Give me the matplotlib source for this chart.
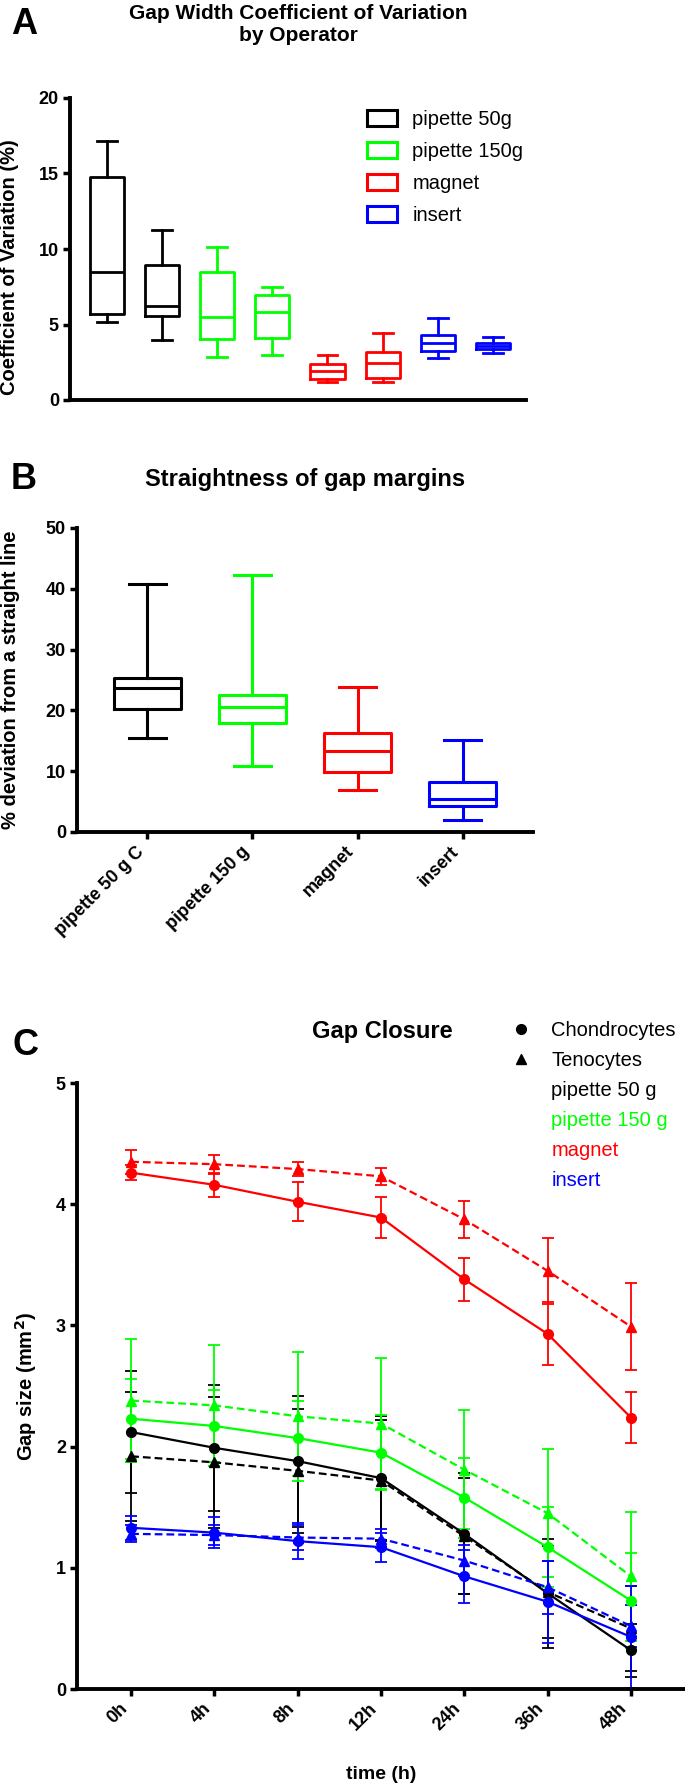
import matplotlib
matplotlib.use('Agg')
import matplotlib.pyplot as plt
from matplotlib.patches import Patch
from matplotlib.lines import Line2D
import numpy as np

plt.rcParams['font.family'] = ['Liberation Sans', 'DejaVu Sans']
plt.rcParams['font.weight'] = 'bold'

# ---- panel A: coefficient of variation by operator (2 operators per method)
cv_colors = ['black', 'black', '#00ff00', '#00ff00', 'red', 'red', 'blue', 'blue']
cv_whislo = [5.15, 3.98, 2.87, 2.96, 1.2, 1.19, 2.81, 3.09]
cv_q1 = [5.68, 5.57, 4.02, 4.09, 1.4, 1.48, 3.25, 3.36]
cv_med = [8.5, 6.2, 5.52, 5.86, 1.95, 2.43, 3.75, 3.58]
cv_q3 = [14.76, 8.95, 8.5, 6.96, 2.4, 3.2, 4.31, 3.8]
cv_whishi = [17.13, 11.27, 10.12, 7.47, 2.96, 4.46, 5.46, 4.2]
cv_legend = ['pipette 50g', 'pipette 150g', 'magnet', 'insert']
legend_colors = ['black', '#00ff00', 'red', 'blue']

# ---- panel B: straightness of gap margins
sd_labels = ['pipette 50 g C', 'pipette 150 g', 'magnet', 'insert']
sd_whislo = [15.5, 10.8, 6.85, 2.0]
sd_q1 = [20.3, 18.0, 9.9, 4.2]
sd_med = [23.7, 20.6, 13.3, 5.5]
sd_q3 = [25.3, 22.5, 16.3, 8.2]
sd_whishi = [40.8, 42.2, 23.8, 15.1]

# ---- panel C: gap closure over time (mean, sd)
times = ['0h', '4h', '8h', '12h', '24h', '36h', '48h']
pip50_chon = [2.12, 1.99, 1.88, 1.74, 1.28, 0.79, 0.32]
pip50_chon_sd = [0.50, 0.52, 0.54, 0.51, 0.50, 0.45, 0.22]
pip50_teno = [1.92, 1.87, 1.80, 1.72, 1.26, 0.80, 0.50]
pip50_teno_sd = [0.53, 0.54, 0.51, 0.50, 0.48, 0.38, 0.35]
pip150_chon = [2.23, 2.17, 2.07, 1.95, 1.58, 1.17, 0.73]
pip150_chon_sd = [0.33, 0.30, 0.31, 0.31, 0.33, 0.33, 0.39]
pip150_teno = [2.38, 2.34, 2.25, 2.19, 1.81, 1.45, 0.93]
pip150_teno_sd = [0.51, 0.50, 0.53, 0.54, 0.49, 0.53, 0.53]
mag_chon = [4.26, 4.16, 4.02, 3.89, 3.38, 2.93, 2.24]
mag_chon_sd = [0.06, 0.10, 0.16, 0.17, 0.18, 0.26, 0.21]
mag_teno = [4.35, 4.33, 4.29, 4.23, 3.875, 3.45, 2.99]
mag_teno_sd = [0.10, 0.08, 0.06, 0.07, 0.15, 0.27, 0.36]
ins_chon = [1.33, 1.29, 1.22, 1.17, 0.93, 0.72, 0.43]
ins_chon_sd = [0.10, 0.13, 0.15, 0.12, 0.22, 0.34, 0.42]
ins_teno = [1.28, 1.27, 1.25, 1.24, 1.06, 0.84, 0.52]
ins_teno_sd = [0.07, 0.08, 0.10, 0.08, 0.13, 0.22, 0.17]

W, H = 685, 1786


def fx(px):
    return px / W


def fy(py):
    return 1 - py / H


def rect(left, top, right, bottom):
    return [fx(left), fy(bottom), (right - left) / W, (bottom - top) / H]


def style_axes(ax):
    for s in ['top', 'right']:
        ax.spines[s].set_visible(False)
    for s in ['left', 'bottom']:
        ax.spines[s].set_linewidth(2.8)
    ax.tick_params(width=2.5, length=5, labelsize=13, pad=3)


def draw_boxes(ax, pos, lo, q1, med, q3, hi, colors, width, capw, lw):
    stats = [{'whislo': a, 'q1': b, 'med': c, 'q3': d, 'whishi': e}
             for a, b, c, d, e in zip(lo, q1, med, q3, hi)]
    art = ax.bxp(stats, positions=pos, widths=width, capwidths=capw,
                 showfliers=False, manage_ticks=False)
    for i, c in enumerate(colors):
        art['boxes'][i].set(color=c, linewidth=lw)
        art['medians'][i].set(color=c, linewidth=lw)
        for k in (2 * i, 2 * i + 1):
            art['whiskers'][k].set(color=c, linewidth=lw)
            art['caps'][k].set(color=c, linewidth=lw)


fig = plt.figure(figsize=(W / 100, H / 100), dpi=100)

# ================= A =================
axA = fig.add_axes(rect(70, 98, 526, 400))
style_axes(axA)
draw_boxes(axA, np.arange(1, 9), cv_whislo, cv_q1, cv_med, cv_q3, cv_whishi,
           cv_colors, 0.62, 0.36, 2.0)
axA.set_xlim(0.33, 8.6)
axA.set_ylim(0, 20)
axA.set_yticks([0, 5, 10, 15, 20])
axA.set_xticks([])
handles = [Patch(facecolor='none', edgecolor=c, linewidth=2.2) for c in legend_colors]
axA.legend(handles, cv_legend, loc='upper left', bbox_to_anchor=(fx(367), fy(110)),
           bbox_transform=fig.transFigure, frameon=False, borderpad=0, borderaxespad=0,
           handlelength=1.5, handleheight=0.85, handletextpad=0.75, labelspacing=0.65,
           prop={'size': 14.5, 'weight': 'normal'})
fig.text(fx(11), fy(7), 'A', fontsize=26, fontweight='bold', ha='left', va='top')
fig.text(fx(298), fy(4), 'Gap Width Coefficient of Variation\nby Operator',
         fontsize=15, fontweight='bold', ha='center', va='top', linespacing=1.2)
fig.text(fx(10), fy(267), 'Coefficient of Variation (%)', rotation=90,
         fontsize=14.5, fontweight='bold', ha='center', va='center')

# ================= B =================
axB = fig.add_axes(rect(77, 528, 533, 832))
style_axes(axB)
draw_boxes(axB, np.arange(1, 5), sd_whislo, sd_q1, sd_med, sd_q3, sd_whishi,
           legend_colors, 0.64, 0.35, 2.2)
axB.set_xlim(0.33, 4.67)
axB.set_ylim(0, 50)
axB.set_yticks([0, 10, 20, 30, 40, 50])
axB.set_xticks(np.arange(1, 5), sd_labels, rotation=45, ha='right')
fig.text(fx(11), fy(462), 'B', fontsize=26, fontweight='bold', ha='left', va='top')
fig.text(fx(305), fy(468), 'Straightness of gap margins',
         fontsize=17, fontweight='bold', ha='center', va='top')
fig.text(fx(11), fy(680), '% deviation from a straight line', rotation=90,
         fontsize=14.5, fontweight='bold', ha='center', va='center')

# ================= C =================
axC = fig.add_axes(rect(77, 1083, 685, 1689))
style_axes(axC)
x = np.arange(len(times))
series = [
    (pip50_chon, pip50_chon_sd, pip50_teno, pip50_teno_sd, 'black'),
    (pip150_chon, pip150_chon_sd, pip150_teno, pip150_teno_sd, '#00ff00'),
    (mag_chon, mag_chon_sd, mag_teno, mag_teno_sd, 'red'),
    (ins_chon, ins_chon_sd, ins_teno, ins_teno_sd, 'blue'),
]
for chon, chon_sd, teno, teno_sd, c in series:
    axC.errorbar(x, teno, yerr=teno_sd, color=c, marker='^', markersize=6.5,
                 linestyle=(0, (3.5, 1.8)), linewidth=1.6, elinewidth=1.3,
                 capsize=4.3, capthick=1.3, clip_on=False)
    axC.errorbar(x, chon, yerr=chon_sd, color=c, marker='o', markersize=7,
                 linestyle='-', linewidth=1.6, elinewidth=1.3,
                 capsize=4.3, capthick=1.3, clip_on=False)
axC.set_xlim(-0.65, 6.65)
axC.set_ylim(0, 5)
axC.set_yticks([0, 1, 2, 3, 4, 5])
axC.set_xticks(x, times, rotation=45, ha='right')

leg_handles = [Line2D([], [], color='black', marker='o', linestyle='none', markersize=7),
               Line2D([], [], color='black', marker='^', linestyle='none', markersize=6.5)]
leg_handles += [Line2D([], [], linestyle='none') for _ in range(4)]
leg_labels = ['Chondrocytes', 'Tenocytes', 'pipette 50 g', 'pipette 150 g', 'magnet', 'insert']
leg = axC.legend(leg_handles, leg_labels, loc='upper left',
                 bbox_to_anchor=(fx(511), fy(1021)), bbox_transform=fig.transFigure,
                 frameon=False, borderpad=0, borderaxespad=0, handlelength=1.0,
                 handletextpad=1.0, labelspacing=0.55,
                 prop={'size': 14.5, 'weight': 'normal'})
for t, c in zip(leg.get_texts()[2:], legend_colors):
    t.set_color(c)

fig.text(fx(13), fy(1028), 'C', fontsize=26, fontweight='bold', ha='left', va='top')
fig.text(fx(382), fy(1020), 'Gap Closure', fontsize=17, fontweight='bold',
         ha='center', va='top')
fig.text(fx(26), fy(1386), 'Gap size (mm$^\\mathbf{2}$)', rotation=90,
         fontsize=14.5, fontweight='bold', ha='center', va='center')
fig.text(fx(381), fy(1766), 'time (h)', fontsize=14, fontweight='bold',
         ha='center', va='top')

fig.savefig('out.png', dpi=100)
